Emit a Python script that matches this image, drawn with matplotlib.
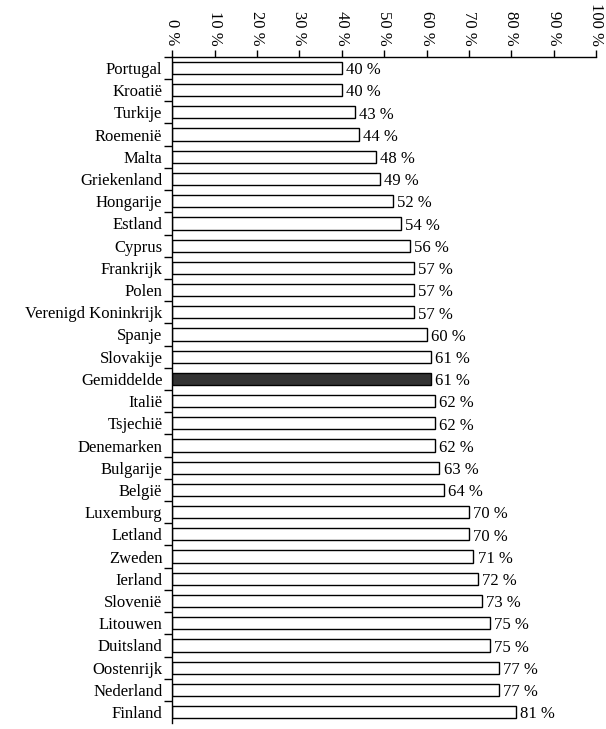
import numpy as np
import matplotlib.pyplot as plt

countries = ['Portugal', 'Kroatië', 'Turkije', 'Roemenië', 'Malta', 'Griekenland',
             'Hongarije', 'Estland', 'Cyprus', 'Frankrijk', 'Polen',
             'Verenigd Koninkrijk', 'Spanje', 'Slovakije', 'Gemiddelde', 'Italië',
             'Tsjechië', 'Denemarken', 'Bulgarije', 'België', 'Luxemburg', 'Letland',
             'Zweden', 'Ierland', 'Slovenië', 'Litouwen', 'Duitsland', 'Oostenrijk',
             'Nederland', 'Finland']
values = [40, 40, 43, 44, 48, 49, 52, 54, 56, 57, 57, 57, 60, 61, 61, 62, 62, 62,
          63, 64, 70, 70, 71, 72, 73, 75, 75, 77, 77, 81]
xticks = [0, 10, 20, 30, 40, 50, 60, 70, 80, 90, 100]

plt.rcParams['font.family'] = ['Liberation Serif', 'DejaVu Serif']

fig = plt.figure(figsize=(6.06, 7.29), dpi=100)
ax = fig.add_axes([0.284, 0.008, 0.700, 0.914])

n = len(countries)
y = np.arange(n)
colors = ['#333333' if c == 'Gemiddelde' else 'white' for c in countries]
ax.barh(y, values, height=0.55, color=colors, edgecolor='black', linewidth=1.0)

for yi, v in zip(y, values):
    ax.text(v + 1.0, yi + 0.1, f'{v} %', va='center', ha='left', fontsize=12)

ax.set_xlim(0, 100)
ax.set_ylim(n - 0.5, -0.35)
ax.xaxis.tick_top()
ax.set_xticks(xticks)
ax.set_xticklabels([f'{t} %' for t in xticks], rotation=-90, fontsize=12)
ax.tick_params(axis='x', direction='out', length=5, width=1, pad=3)

ax.set_yticks(y)
ax.set_yticklabels(countries, fontsize=12)
ax.tick_params(axis='y', which='major', length=0, pad=7)
ax.set_yticks(np.arange(n) - 0.5, minor=True)
ax.tick_params(axis='y', which='minor', length=6, width=1)

ax.spines['right'].set_visible(False)
ax.spines['bottom'].set_visible(False)
ax.spines['top'].set_linewidth(1)
ax.spines['left'].set_linewidth(1)

fig.savefig('out.png', dpi=100)
